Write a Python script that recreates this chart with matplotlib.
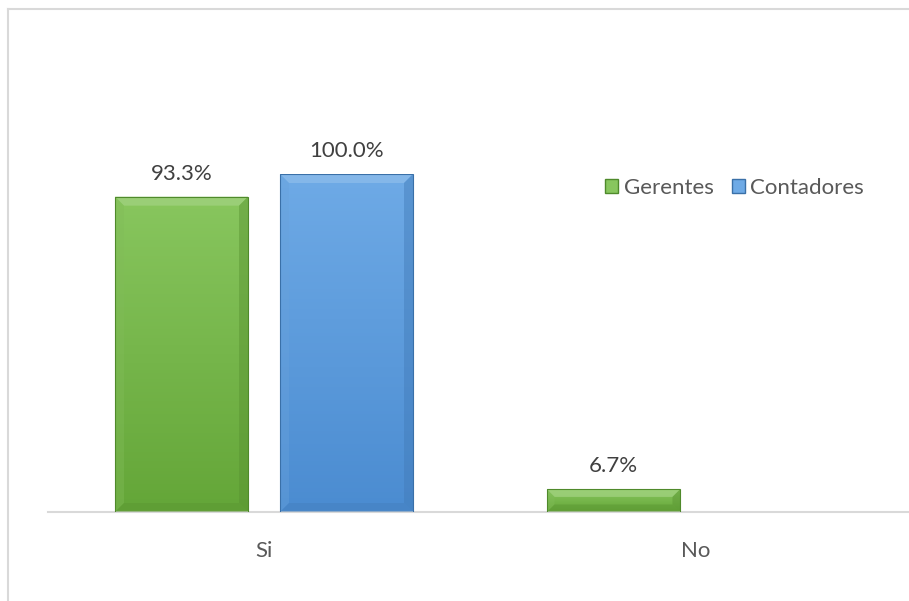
import numpy as np
import matplotlib.pyplot as plt
import matplotlib.colors as mc
from matplotlib.patches import Polygon, Patch
from matplotlib.lines import Line2D

plt.rcParams['font.family'] = ['Lato', 'DejaVu Sans']

categories = ['Si', 'No']
series_names = ['Gerentes', 'Contadores']
gerentes = [93.3, 6.7]
contadores = [100.0, 0.0]
labels_g = ['93.3%', '6.7%']
labels_c = ['100.0%', '']

# colours: (top, bottom, edge)
green = ('#88c65e', '#64a638', '#4f8a2b')
blue = ('#6eaae6', '#4b8cd1', '#3a70a8')

W, H = 909, 601
fig = plt.figure(figsize=(W / 100, H / 100), dpi=100)
ax = fig.add_axes([48 / W, (H - 512) / H, 864 / W, 338 / H])
ax.set_xlim(-0.5, 1.5)
ax.set_ylim(0, 100)

# px -> data scale
sx = 2.0 / 864
sy = 100.0 / 338

bar_w = 133 / 432
offset = 82.5 / 432
x = np.arange(len(categories))


def lighten(c, f):
    r = np.array(mc.to_rgb(c))
    return tuple(r + (1 - r) * f) if f > 0 else tuple(r * (1 + f))


def draw_bar(x0, h, cols):
    if h <= 0:
        return
    top, bot, edge = cols
    bars = ax.bar(x0, h, width=bar_w, color='none', edgecolor='none', zorder=2)
    rect = bars[0]
    grad = np.linspace(0, 1, 100).reshape(-1, 1)
    cmap = mc.LinearSegmentedColormap.from_list('g', [bot, top])
    im = ax.imshow(grad, cmap=cmap, aspect='auto', origin='lower',
                   extent=[x0 - bar_w / 2, x0 + bar_w / 2, 0, h], zorder=2)
    im.set_clip_path(rect)
    # bevel
    b = min(9, h / sy / 3)
    bx, by = b * sx, b * sy
    l, r = x0 - bar_w / 2, x0 + bar_w / 2
    polys = [
        ([(l, h), (r, h), (r - bx, h - by), (l + bx, h - by)], lighten(top, 0.2), 0.8),
        ([(l, 0), (l, h), (l + bx, h - by), (l + bx, by)], lighten(top, -0.05), 0.4),
        ([(r, 0), (r, h), (r - bx, h - by), (r - bx, by)], lighten(bot, -0.12), 0.45),
        ([(l, 0), (r, 0), (r - bx, by), (l + bx, by)], lighten(bot, -0.1), 0.45),
    ]
    for pts, c, a in polys:
        ax.add_patch(Polygon(pts, closed=True, facecolor=c, edgecolor='none', alpha=a, zorder=3))
    ax.add_patch(Polygon([(l, 0), (l, h), (r, h), (r, 0)], closed=True, fill=False,
                         edgecolor=edge, linewidth=0.8, zorder=4))


for i in range(len(categories)):
    draw_bar(x[i] - offset, gerentes[i], green)
    draw_bar(x[i] + offset, contadores[i], blue)
    ax.text(x[i] - offset, gerentes[i] + 23 * sy, labels_g[i], ha='center', va='center',
            fontsize=16, color='#404040')
    if labels_c[i]:
        ax.text(x[i] + offset, contadores[i] + 23 * sy, labels_c[i], ha='center', va='center',
                fontsize=16, color='#404040')

for s in ['top', 'right', 'left']:
    ax.spines[s].set_visible(False)
ax.spines['bottom'].set_color('#d9d9d9')
ax.spines['bottom'].set_linewidth(1.5)
ax.set_yticks([])
ax.set_xticks(x)
ax.set_xticklabels(categories, fontsize=16, color='#595959')
ax.tick_params(axis='x', length=0, pad=21)
ax.set_facecolor('none')

handles = [Patch(facecolor=green[0], edgecolor=green[2]), Patch(facecolor=blue[0], edgecolor=blue[2])]
leg = fig.legend(handles, series_names, loc='center left', bbox_to_anchor=(585 / W, 1 - 188 / H),
                 frameon=False, ncol=2, fontsize=16, handlelength=0.6, handleheight=0.6,
                 handletextpad=0.25, columnspacing=0.8, labelcolor='#595959')

# chart area border (left and top visible)
fig.add_artist(Line2D([8 / W, 8 / W], [0, 1 - 9 / H], color='#d9d9d9', linewidth=1.5))
fig.add_artist(Line2D([8 / W, 1], [1 - 9 / H, 1 - 9 / H], color='#d9d9d9', linewidth=1.5))

fig.savefig('out.png', dpi=100)
